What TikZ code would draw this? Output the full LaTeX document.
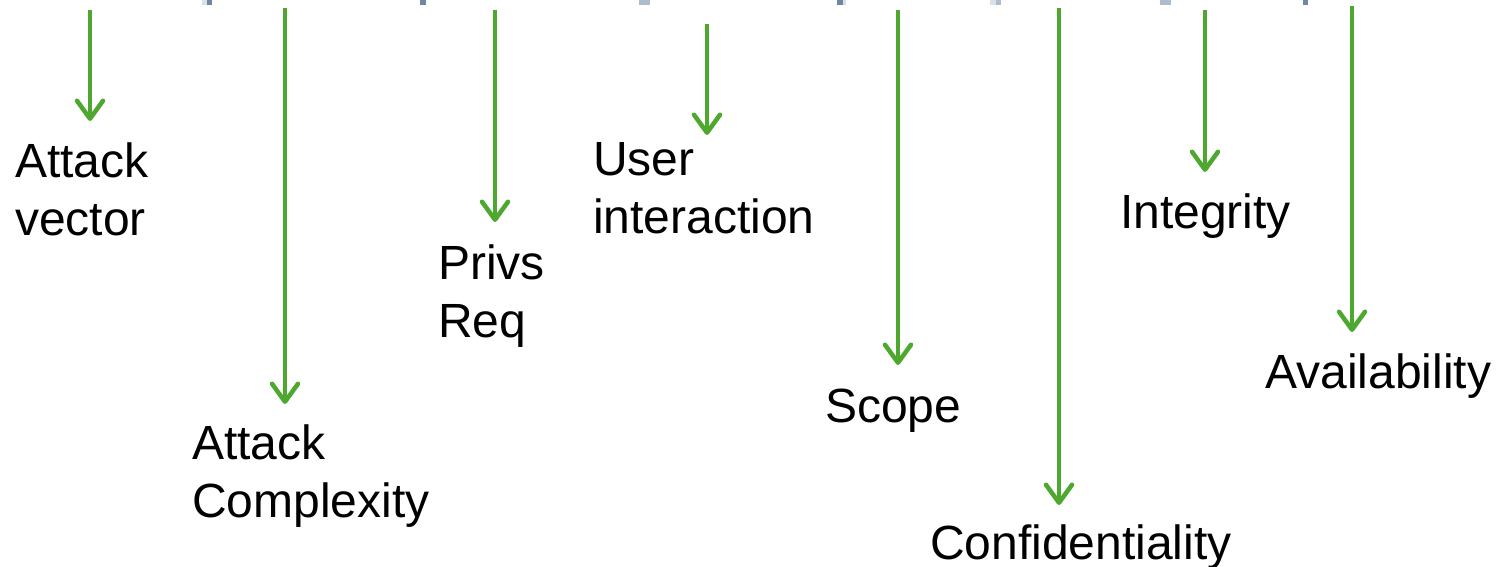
\documentclass[tikz,border=0pt]{standalone}
\usepackage{fontspec}
\setmainfont{Liberation Sans}
\usetikzlibrary{arrows.meta}
\definecolor{arrowgreen}{RGB}{78,167,46}
\definecolor{markdark}{RGB}{110,136,164}
\definecolor{markmid}{RGB}{174,189,206}
\definecolor{marklight}{RGB}{218,223,232}
\tikzset{
  metric/.style={draw=arrowgreen, line width=4.5pt,
    -{Straight Barb[length=18pt,width=26pt,line cap=round,line join=round]}},
  lbl/.style={anchor=base west, inner sep=0pt, align=left,
    font=\fontsize{48}{58}\selectfont, text=black}
}
\begin{document}
\begin{tikzpicture}[x=1pt,y=-1pt]
\useasboundingbox (0,0) rectangle (1496,567);
% faint marks at the top edge
\fill[marklight] (202,0) rectangle (207,5);
\fill[markdark] (207,0) rectangle (212,5);
\fill[markdark] (420,0) rectangle (426,5);
\fill[markmid] (639,0) rectangle (650,5);
\fill[markdark] (837,0) rectangle (843,5);
\fill[marklight] (843,0) rectangle (846,5);
\fill[marklight] (990,0) rectangle (996,5);
\fill[markmid] (996,0) rectangle (1001,5);
\fill[markmid] (1160,0) rectangle (1171,5);
\fill[markdark] (1303,0) rectangle (1308,5);
% labels (anchor = baseline of last line)
\node[lbl] (av) at (15,235) {Attack\\vector};
\node[lbl] (ac) at (192,517) {Attack\\Complexity};
\node[lbl] (pr) at (438,337) {Privs\\Req};
\node[lbl] (ui) at (593,233) {User\\interaction};
\node[lbl] (sc) at (825,422) {Scope};
\node[lbl] (co) at (930,559) {Confidentiality};
\node[lbl] (in) at (1120,228) {Integrity};
\node[lbl] (aa) at (1265,388) {Availability};
% arrow end points
\coordinate (avS) at (90,10);   \coordinate (avE) at (90,121);
\coordinate (acS) at (285,8);   \coordinate (acE) at (285,404);
\coordinate (prS) at (495,10);  \coordinate (prE) at (495,222);
\coordinate (uiS) at (707,24);  \coordinate (uiE) at (707,135);
\coordinate (scS) at (898,10);  \coordinate (scE) at (898,365);
\coordinate (coS) at (1059,8);  \coordinate (coE) at (1059,505);
\coordinate (inS) at (1205,10); \coordinate (inE) at (1205,172);
\coordinate (aaS) at (1352,6);  \coordinate (aaE) at (1352,332);
\draw[metric] (avS) -- (avE);
\draw[metric] (acS) -- (acE);
\draw[metric] (prS) -- (prE);
\draw[metric] (uiS) -- (uiE);
\draw[metric] (scS) -- (scE);
\draw[metric] (coS) -- (coE);
\draw[metric] (inS) -- (inE);
\draw[metric] (aaS) -- (aaE);
\end{tikzpicture}
\end{document}
